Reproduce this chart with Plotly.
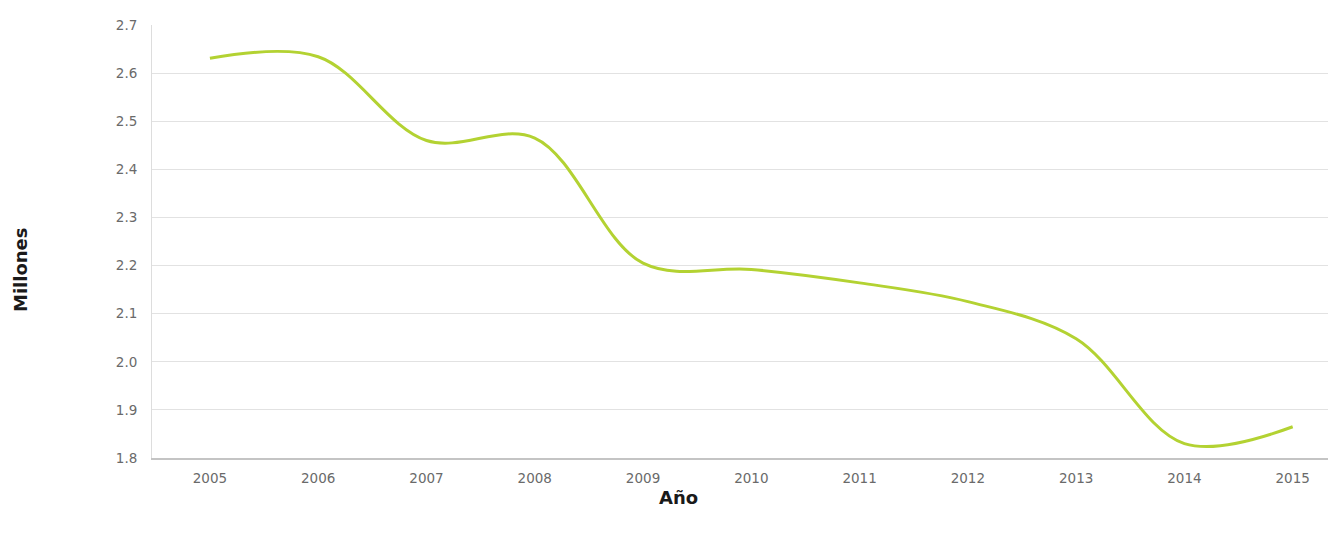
import plotly.graph_objects as go

years = ["2005", "2006", "2007", "2008", "2009", "2010", "2011", "2012", "2013", "2014", "2015"]
millones = [2.631, 2.634, 2.460, 2.465, 2.205, 2.192, 2.164, 2.125, 2.048, 1.830, 1.865]

# page body has an 8px margin, so the figure is placed at (8, 8)
W, H = 1328, 528
L, T, B = 144, 17, 78
PW, PH = W - L, H - T - B

fig = go.Figure()
fig.add_trace(go.Scatter(
    x=years, y=millones, mode="lines",
    line=dict(color="#b3d232", width=3, shape="spline", smoothing=1.0),
    hoverinfo="x+y", showlegend=False,
))

tickfont = dict(size=13.5, color="#6a6a6a", family="DejaVu Sans, sans-serif")
titlefont = dict(size=18, color="#1a1a1a", family="DejaVu Sans, sans-serif")

fig.update_layout(
    width=W, height=H,
    margin=dict(l=L, r=0, t=T, b=B),
    paper_bgcolor="white", plot_bgcolor="white",
    font=dict(family="DejaVu Sans, sans-serif", color="#555555", size=12),
    xaxis=dict(
        type="category", range=[-0.535, 10.4],
        showgrid=False, zeroline=False,
        showline=True, linecolor="#c4c4c4", linewidth=2,
        ticks="outside", ticklen=7, tickcolor="rgba(0,0,0,0)",
        tickfont=tickfont,
    ),
    yaxis=dict(
        range=[1.8, 2.7], dtick=0.1, tick0=1.8, tickformat=".1f",
        showgrid=True, gridcolor="#e2e2e2", gridwidth=1,
        zeroline=False, showline=True, linecolor="#dddddd", linewidth=1,
        ticks="outside", ticklen=11, tickcolor="rgba(0,0,0,0)",
        tickfont=tickfont,
    ),
    annotations=[
        dict(text="<b>Año</b>", xref="paper", yref="paper",
             x=(678 - 8 - L) / PW, y=-(497 - 458) / PH,
             showarrow=False, font=titlefont, xanchor="center", yanchor="middle"),
        dict(text="<b>Millones</b>", xref="paper", yref="paper",
             x=-(152 - 20) / PW, y=(458 - 270) / PH,
             showarrow=False, textangle=-90, font=titlefont,
             xanchor="center", yanchor="middle"),
    ],
)

fig.write_html("out.html")
